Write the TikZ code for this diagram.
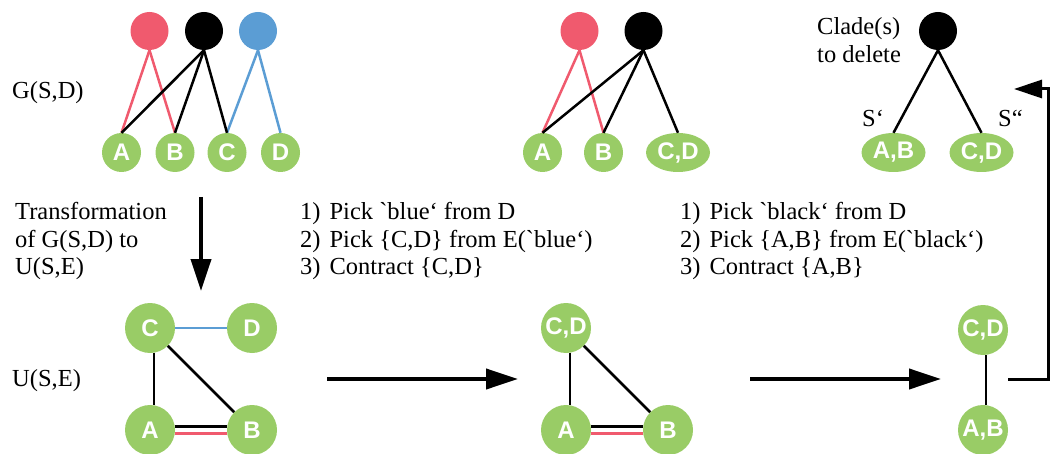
\documentclass[tikz,border=0pt]{standalone}
\usepackage{fontspec}
\newfontfamily\lab{Liberation Serif}
\newfontfamily\nf{Liberation Sans}
\usetikzlibrary{shapes.geometric,arrows.meta}
\definecolor{gr}{RGB}{153,204,102}
\definecolor{rd}{RGB}{240,90,110}
\definecolor{bl}{RGB}{91,157,212}
\begin{document}
\begin{tikzpicture}[x=1pt,y=-1pt,
 topc/.style={circle,minimum size=38pt,inner sep=0},
 nfont/.style={text=white,font=\nf\bfseries\fontsize{24}{24}\selectfont},
 leaf/.style={circle,fill=gr,minimum size=39pt,inner sep=0,nfont},
 leafe/.style={ellipse,fill=gr,minimum width=64pt,minimum height=39pt,inner sep=0,nfont},
 big/.style={circle,fill=gr,minimum size=50pt,inner sep=0,nfont},
 lbl/.style={font=\lab\fontsize{24.5}{27.5}\selectfont,inner sep=0,align=left},
 e/.style={line width=2.5pt},
 de/.style={line width=2.5pt},
 arr/.style={line width=4pt,-{Triangle[length=32pt,width=20pt]}},
 ret/.style={line width=3pt,-{Triangle[length=28pt,width=18pt]}}
]
\useasboundingbox (0,0) rectangle (1056,454);

% ---- top left: G(S,D)
\node[topc,fill=rd] (r1) at (149.5,31) {};
\node[topc,fill=black] (k1) at (204,31) {};
\node[topc,fill=bl] (b1) at (258,31) {};
\node[leaf] (A1) at (121.5,152.5) {A};
\node[leaf] (B1) at (175,152.5) {B};
\node[leaf] (C1) at (227,152.5) {C};
\node[leaf] (D1) at (280.5,152.5) {D};
\draw[e,rd] (r1.south) -- (A1.north);
\draw[e,rd] (r1.south) -- (B1.north);
\draw[e,bl] (b1.south) -- (C1.north);
\draw[e,bl] (b1.south) -- (D1.north);
\draw[e,black] (k1.south) -- (A1.north);
\draw[e,black] (k1.south) -- (B1.north);
\draw[e,black] (k1.south) -- (C1.north);
\node[lbl,anchor=west] (gsd) at (12,93) {G(S,D)};

% ---- top middle
\node[topc,fill=rd] (r2) at (579.5,31) {};
\node[topc,fill=black] (k2) at (643.5,31) {};
\node[leaf] (A2) at (542.5,152.5) {A};
\node[leaf] (B2) at (603.5,152.5) {B};
\node[leafe] (CD2) at (678,152.5) {C,D};
\draw[e,rd] (r2.south) -- (A2.north);
\draw[e,rd] (r2.south) -- (B2.north);
\draw[e,black] (k2.south) -- (A2.north);
\draw[e,black] (k2.south) -- (B2.north);
\draw[e,black] (k2.south) -- (CD2.north);

% ---- top right
\node[topc,fill=black] (k3) at (938,31) {};
\node[leafe] (AB3) at (893.5,152.5) {A,B};
\node[leafe] (CD3) at (981.5,152.5) {C,D};
\draw[e,black] (k3.south) -- (AB3.north);
\draw[e,black] (k3.south) -- (CD3.north);
\node[lbl,anchor=west] (clade) at (817,40) {Clade(s)\\to delete};
\node[lbl,anchor=west] (s1) at (862,118) {S‘};
\node[lbl,anchor=west] (s2) at (998,118) {S“};

% ---- texts
\node[lbl,anchor=west] (trans) at (15,241) {Transformation\\of G(S,D) to\\U(S,E)};
\node[lbl,anchor=west] (step1) at (300,241) {1)\hspace{9pt}Pick `blue‘ from D\\2)\hspace{9pt}Pick \{C,D\} from E(`blue‘)\\3)\hspace{9pt}Contract \{C,D\}};
\node[lbl,anchor=west] (step2) at (680,241) {1)\hspace{9pt}Pick `black‘ from D\\2)\hspace{9pt}Pick \{A,B\} from E(`black‘)\\3)\hspace{9pt}Contract \{A,B\}};
\node[lbl,anchor=west] (use) at (12,381) {U(S,E)};

% ---- down arrow
\coordinate (d0) at (201,197);
\coordinate (d1) at (201,291);
\draw[arr] (d0) -- (d1);

% ---- bottom left
\node[big] (C4) at (150,328) {C};
\node[big] (D4) at (252,328) {D};
\node[big] (A4) at (150,430) {A};
\node[big] (B4) at (252,430) {B};
\draw[e,bl] (C4) -- (D4);
\draw[e,black] ([xshift=4pt]C4.south) -- ([xshift=4pt]A4.north);
\draw[e,black] (C4) -- (B4);
\draw[de,black] ([yshift=3.5pt]A4.east) -- ([yshift=3.5pt]B4.west);
\draw[de,rd] ([yshift=-3.5pt]A4.east) -- ([yshift=-3.5pt]B4.west);

% ---- arrow 1
\coordinate (h0) at (327,379);
\coordinate (h1) at (518,379);
\draw[arr] (h0) -- (h1);

% ---- bottom middle
\node[big] (CD5) at (566,328) {C,D};
\node[big] (A5) at (566,430) {A};
\node[big] (B5) at (668,430) {B};
\draw[e,black] ([xshift=4pt]CD5.south) -- ([xshift=4pt]A5.north);
\draw[e,black] (CD5) -- (B5);
\draw[de,black] ([yshift=3.5pt]A5.east) -- ([yshift=3.5pt]B5.west);
\draw[de,rd] ([yshift=-3.5pt]A5.east) -- ([yshift=-3.5pt]B5.west);

% ---- arrow 2
\coordinate (h2) at (750,379);
\coordinate (h3) at (941,379);
\draw[arr] (h2) -- (h3);

% ---- bottom right
\node[big] (CD6) at (983,330) {C,D};
\node[big] (AB6) at (983,430) {A,B};
\draw[e,black] ([xshift=3pt]CD6.south) -- ([xshift=3pt]AB6.north);

% ---- return arrow
\coordinate (q0) at (1008,379);
\coordinate (q1) at (1048,379);
\coordinate (q2) at (1048,89);
\coordinate (q3) at (1014,89);
\draw[ret] (q0) -- (q1) -- (q2) -- (q3);
\end{tikzpicture}
\end{document}
